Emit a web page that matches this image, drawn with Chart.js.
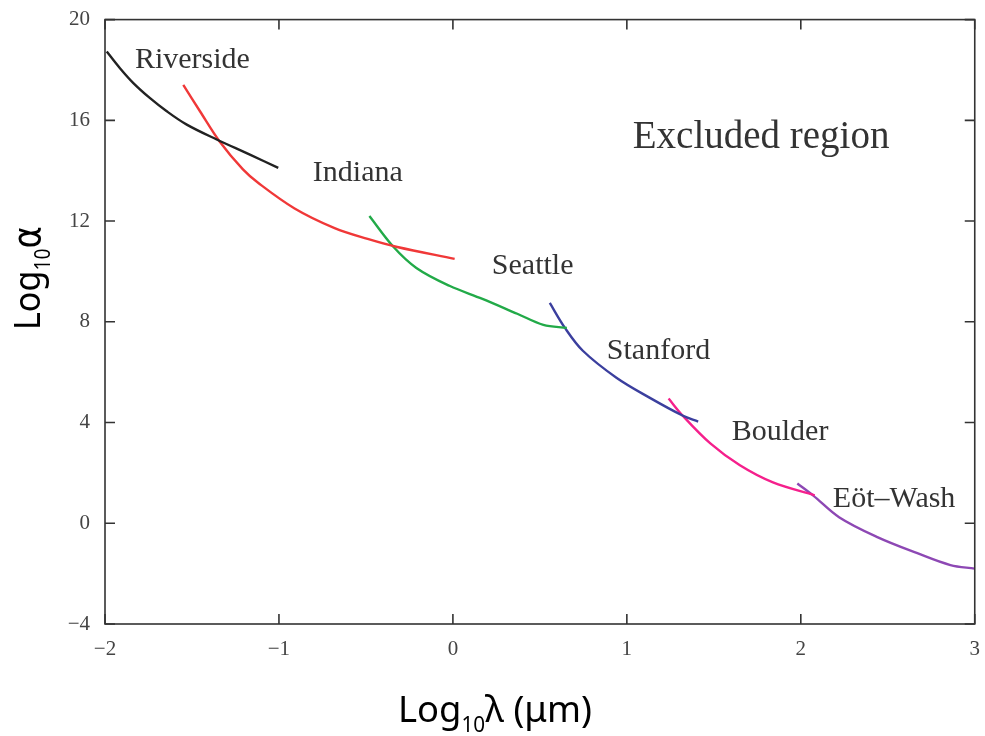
<!DOCTYPE html>
<html>
<head>
<meta charset="utf-8">
<script src="https://cdn.jsdelivr.net/npm/chart.js@4/dist/chart.umd.min.js"></script>
<style>
  html, body { margin: 0; padding: 0; background: #fff; }
  #wrap { width: 985px; height: 736px; }
</style>
</head>
<body>
<div id="wrap"><canvas id="limitsChart" width="985" height="736"></canvas></div>
<script>
// Limites experimentales sobre log10(alpha) en funcion de log10(lambda)
const xTicks = [-2, -1, 0, 1, 2, 3];
const yTicks = [-4, 0, 4, 8, 12, 16, 20];

const riversideX = [-1.99, -1.914, -1.837, -1.741, -1.645, -1.53, -1.358, -1.167, -1.004];
const riversideY = [18.73, 18.07, 17.48, 16.88, 16.36, 15.83, 15.24, 14.64, 14.11];

const indianaX = [-1.55, -1.454, -1.34, -1.207, -1.12, -0.91, -0.68, -0.49, -0.32, 0.01];
const indianaY = [17.41, 16.36, 15.15, 14.05, 13.52, 12.5, 11.72, 11.29, 10.97, 10.5];

const seattleX = [-0.48, -0.345, -0.21, -0.02, 0.17, 0.37, 0.52, 0.655];
const seattleY = [12.2, 11.0, 10.14, 9.43, 8.91, 8.32, 7.88, 7.76];

const stanfordX = [0.557, 0.644, 0.747, 0.94, 1.13, 1.32, 1.41];
const stanfordY = [8.75, 7.76, 6.85, 5.78, 4.99, 4.28, 4.04];

const boulderX = [1.24, 1.32, 1.48, 1.65, 1.84, 2.08];
const boulderY = [4.95, 4.28, 3.17, 2.3, 1.62, 1.11];

const eotWashX = [1.98, 2.07, 2.22, 2.44, 2.67, 2.86, 3.0];
const eotWashY = [1.58, 1.11, 0.24, -0.55, -1.19, -1.66, -1.8];

const experiments = ['Riverside', 'Indiana', 'Seattle', 'Stanford', 'Boulder', 'Eöt–Wash'];
const colores = ['#222222', '#f03838', '#22aa48', '#3b3f9e', '#f5208c', '#8d48b4'];
const serieX = [riversideX, indianaX, seattleX, stanfordX, boulderX, eotWashX];
const serieY = [riversideY, indianaY, seattleY, stanfordY, boulderY, eotWashY];

// Linea base de la etiqueta de cada experimento (coordenadas de datos)
const etiquetaX = [-1.828, -0.805, 0.224, 0.885, 1.603, 2.184];
const etiquetaY = [18.06, 13.58, 9.9, 6.53, 3.29, 0.63];

const datasets = experiments.map((name, i) => ({
    label: name,
    data: serieX[i].map((x, k) => ({ x: x, y: serieY[i][k] })),
    borderColor: colores[i],
    backgroundColor: colores[i],
    borderWidth: 2.4,
    showLine: true,
    pointRadius: 0,
    tension: 0.35,
    fill: false
}));

function minus(v) {
    return String(v).replace('-', '\u2212');
}

// Texto con subindice, comprimido al ancho pedido
function drawParts(ctx, parts, cx, baseline, width) {
    let total = 0;
    parts.forEach(p => { ctx.font = p[1]; total += ctx.measureText(p[0]).width; });
    const sx = width / total;
    ctx.save();
    ctx.translate(cx - width / 2, baseline);
    ctx.scale(sx, 1);
    ctx.textAlign = 'left';
    ctx.textBaseline = 'alphabetic';
    let x = 0;
    parts.forEach(p => {
        ctx.font = p[1];
        ctx.fillText(p[0], x, p[2]);
        x += ctx.measureText(p[0]).width;
    });
    ctx.restore();
}

// Marco, marcas hacia dentro y textos
const framePlugin = {
    id: 'frame',
    afterDatasetsDraw(chart) {
        const ctx = chart.ctx;
        const a = chart.chartArea;
        const xs = chart.scales.x;
        const ys = chart.scales.y;
        const len = 10;

        ctx.save();
        ctx.strokeStyle = '#333';
        ctx.lineWidth = 1.6;
        ctx.strokeRect(a.left, a.top, a.right - a.left, a.bottom - a.top);

        ctx.beginPath();
        xTicks.forEach(v => {
            const px = xs.getPixelForValue(v);
            ctx.moveTo(px, a.bottom); ctx.lineTo(px, a.bottom - len);
            ctx.moveTo(px, a.top); ctx.lineTo(px, a.top + len);
        });
        yTicks.forEach(v => {
            const py = ys.getPixelForValue(v);
            ctx.moveTo(a.left, py); ctx.lineTo(a.left + len, py);
            ctx.moveTo(a.right, py); ctx.lineTo(a.right - len, py);
        });
        ctx.stroke();

        // Nombres de los experimentos
        ctx.fillStyle = '#333';
        ctx.font = '30px "Liberation Serif", serif';
        ctx.textBaseline = 'alphabetic';
        ctx.textAlign = 'left';
        experiments.forEach((name, i) => {
            ctx.fillText(name, xs.getPixelForValue(etiquetaX[i]), ys.getPixelForValue(etiquetaY[i]));
        });

        ctx.font = '39px "Liberation Serif", serif';
        ctx.fillText('Excluded region', xs.getPixelForValue(1.034), ys.getPixelForValue(14.89));

        // Titulos de los ejes
        ctx.fillStyle = '#000';
        const big = '37px "Noto Sans", sans-serif';
        const small = '21px "Noto Sans", sans-serif';
        const greek = '37px "DejaVu Sans", sans-serif';
        drawParts(ctx, [['Log', big, 0], ['10', small, 10], ['\u03bb (\u03bcm)', big, 0]], 495, 722, 194);

        ctx.save();
        ctx.translate(40, 278);
        ctx.rotate(-Math.PI / 2);
        drawParts(ctx, [['Log', big, 0], ['10', small, 10], ['\u03b1', greek, 0]], 0, 0, 104);
        ctx.restore();

        ctx.restore();
    }
};

const tickFont = { family: '"Liberation Serif", serif', size: 21 };

const ctx = document.getElementById('limitsChart');
new Chart(ctx, {
    type: 'scatter',
    data: { datasets: datasets },
    options: {
        responsive: false,
        animation: false,
        layout: { padding: { top: 18, right: 10, left: 0, bottom: 0 } },
        plugins: {
            legend: { display: false },
            tooltip: { enabled: false }
        },
        scales: {
            x: {
                type: 'linear',
                min: -2,
                max: 3,
                afterFit(scale) { scale.height = 112; },
                afterBuildTicks(scale) { scale.ticks = xTicks.map(v => ({ value: v })); },
                grid: { display: false },
                border: { display: false },
                ticks: {
                    color: '#444',
                    padding: 5,
                    font: tickFont,
                    callback: v => minus(v)
                }
            },
            y: {
                type: 'linear',
                min: -4,
                max: 20,
                afterFit(scale) { scale.width = 105; },
                afterBuildTicks(scale) { scale.ticks = yTicks.map(v => ({ value: v })); },
                grid: { display: false },
                border: { display: false },
                ticks: {
                    color: '#444',
                    padding: 7,
                    font: tickFont,
                    callback: v => minus(v)
                }
            }
        }
    },
    plugins: [framePlugin]
});
</script>
</body>
</html>
